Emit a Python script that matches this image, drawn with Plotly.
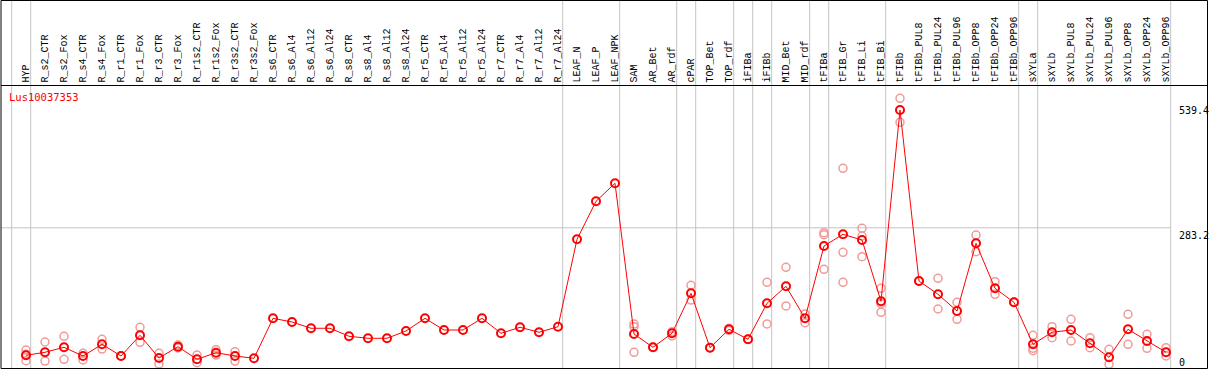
import plotly.graph_objects as go

categories = ["HYP", "R_s2_CTR", "R_s2_Fox", "R_s4_CTR", "R_s4_Fox", "R_r1_CTR", "R_r1_Fox",
              "R_r3_CTR", "R_r3_Fox", "R_r1s2_CTR", "R_r1s2_Fox", "R_r3s2_CTR", "R_r3s2_Fox",
              "R_s6_CTR", "R_s6_Al4", "R_s6_Al12", "R_s6_Al24", "R_s8_CTR", "R_s8_Al4", "R_s8_Al12",
              "R_s8_Al24", "R_r5_CTR", "R_r5_Al4", "R_r5_Al12", "R_r5_Al24", "R_r7_CTR", "R_r7_Al4",
              "R_r7_Al12", "R_r7_Al24", "LEAF_N", "LEAF_P", "LEAF_NPK", "SAM", "AR_Bet", "AR_rdf",
              "cPAR", "TOP_Bet", "TOP_rdf", "iFIBa", "iFIBb", "MID_Bet", "MID_rdf", "tFIBa",
              "tFIB_Gr", "tFIB_Li", "tFIB_Bi", "tFIBb", "tFIBb_PUL8", "tFIBb_PUL24", "tFIBb_PUL96",
              "tFIBb_OPP8", "tFIBb_OPP24", "tFIBb_OPP96", "sXYLa", "sXYLb", "sXYLb_PUL8",
              "sXYLb_PUL24", "sXYLb_PUL96", "sXYLb_OPP8", "sXYLb_OPP24", "sXYLb_OPP96"]

mean_values = [21.9, 28.1, 38.3, 20.5, 44.5, 20.5, 62.9, 16.4, 39.5, 13.7, 27.3, 20.5, 15.8,
               97.7, 90.2, 77.3, 77.3, 60.9, 56.8, 56.8, 71.7, 97.7, 73.8, 73.8, 97.7, 67.0, 79.3,
               69.1, 80.5, 259.6, 337.5, 374.4, 65.6, 38.3, 67.0, 149.0, 37.5, 75.2, 54.7, 128.5,
               163.3, 97.7, 245.9, 269.9, 258.2, 132.6, 524.6, 174.2, 146.9, 112.7, 251.4, 159.2,
               130.5, 44.5, 69.1, 73.8, 46.5, 17.8, 75.2, 51.2, 28.1]

N = None
rep_a = [32.8, 49.2, 60.9, 26.0, 54.7, 20.5, 79.3, 26.0, 43.0, 22.5, 33.4, 29.3, N,
         N, N, N, N, N, N, N, N, N, N, N, N, N, N, N, N, N, N, N,
         80.5, 38.3, 70.3, 165.4, 37.5, 77.0, 54.7, 171.5, 202.3, 106.6, 273.2, 405.1, 282.2,
         159.2, 548.6, 174.2, 179.7, 130.5, 268.4, 172.7, 130.5, 62.9, 80.5, 95.7, 58.0, 34.2,
         105.9, 65.0, 37.5]
rep_b = [10.9, 10.2, 13.7, 12.3, 34.8, 20.5, 48.6, 4.1, 36.9, 6.8, 22.5, 10.2, N,
         N, N, N, N, N, N, N, N, N, N, N, N, N, N, N, N, N, N, N,
         28.1, 38.3, 61.5, 135.2, 37.5, 73.0, 54.7, 86.1, 123.0, 88.7, 269.1, 233.0, 266.4,
         110.0, 499.4, 174.2, 116.8, 95.7, 234.2, 146.9, 130.5, 31.4, 58.0, 51.2, 37.5, 3.5,
         44.5, 36.3, 20.5]
rep_c = [24.0, N, N, N, N, N, N, N, N, N, N, N, N,
         N, N, N, N, N, N, N, N, N, N, N, N, N, N, N, N, N, N, N,
         86.0, N, N, N, N, N, N, N, N, N, 198.2, 171.5, 224.0,
         128.0, N, N, N, N, N, N, N, 36.3, N, N, N, N,
         N, N, N]

y_ticks = [0, 283.2, 539.4]
gene_label = "Lus10037353"
group_boundaries = [-1, 0, 28, 31, 34, 35, 37, 38, 39, 41, 42, 45, 52, 53, 60]

W, H = 1209, 370
X0 = -26 / 19
X1 = X0 + W / 19
K = 0.48799
Y1 = 366 / K
Y0 = (366 - H) / K


def py(p):
    return 1 - p / H


def px(p):
    return p / W


xs = list(range(len(categories)))
fig = go.Figure()
for reps in (rep_a, rep_b, rep_c):
    fig.add_trace(go.Scatter(x=xs, y=reps, mode="markers", showlegend=False,
                             marker=dict(symbol="circle-open", size=8, color="#f09a9a",
                                         line=dict(width=1.5, color="#f09a9a"))))
fig.add_trace(go.Scatter(x=xs, y=mean_values, mode="lines+markers", showlegend=False,
                         line=dict(color="#ff0000", width=1),
                         marker=dict(symbol="circle-open", size=8, color="#ff0000",
                                     line=dict(width=2, color="#ff0000"))))

shapes = []
for b in group_boundaries:
    xb = b + 4.7 / 19
    shapes.append(dict(type="line", xref="x", yref="paper", x0=xb, x1=xb, y0=py(368), y1=py(0),
                       line=dict(color="#c4c4c4", width=1), layer="below"))
shapes.append(dict(type="line", xref="paper", yref="y", x0=px(1), x1=px(1170.7), y0=283.2, y1=283.2,
                   line=dict(color="#c4c4c4", width=1), layer="below"))
shapes.append(dict(type="rect", xref="paper", yref="paper", x0=px(1), x1=px(1207.5), y0=py(368.5), y1=py(0.5),
                   line=dict(color="black", width=1)))
shapes.append(dict(type="line", xref="paper", yref="paper", x0=px(1), x1=px(1207.5), y0=py(85.5), y1=py(85.5),
                   line=dict(color="black", width=1)))

annotations = []
for i, c in enumerate(categories):
    annotations.append(dict(x=i, y=py(85), xref="x", yref="paper", text=c, textangle=-90,
                            showarrow=False, xanchor="center", yanchor="bottom", xshift=-0.5,
                            font=dict(family="Liberation Mono", size=10, color="black")))
for t in y_ticks:
    if t == 0:
        annotations.append(dict(x=px(1177), y=py(362), xref="paper", yref="paper", text="0",
                                showarrow=False, xanchor="left", yanchor="middle",
                                font=dict(family="DejaVu Sans Mono", size=10, color="black")))
    else:
        annotations.append(dict(x=px(1177), y=t, xref="paper", yref="y", text=str(t),
                                showarrow=False, xanchor="left", yanchor="top",
                                font=dict(family="DejaVu Sans Mono", size=10, color="black")))
annotations.append(dict(x=px(7), y=py(97.5), xref="paper", yref="paper", text=gene_label,
                        showarrow=False, xanchor="left", yanchor="middle",
                        font=dict(family="DejaVu Sans Mono", size=10.5, color="#ff0000")))

fig.update_layout(
    width=W, height=H, margin=dict(l=0, r=0, t=0, b=0),
    paper_bgcolor="white", plot_bgcolor="white",
    xaxis=dict(range=[X0, X1], visible=False, fixedrange=True),
    yaxis=dict(range=[Y0, Y1], visible=False, fixedrange=True),
    shapes=shapes, annotations=annotations, showlegend=False, hovermode=False,
)
fig.write_html("out.html", config={"displayModeBar": False, "staticPlot": True},
               post_script="document.body.style.margin='0';document.body.style.overflow='hidden';")
